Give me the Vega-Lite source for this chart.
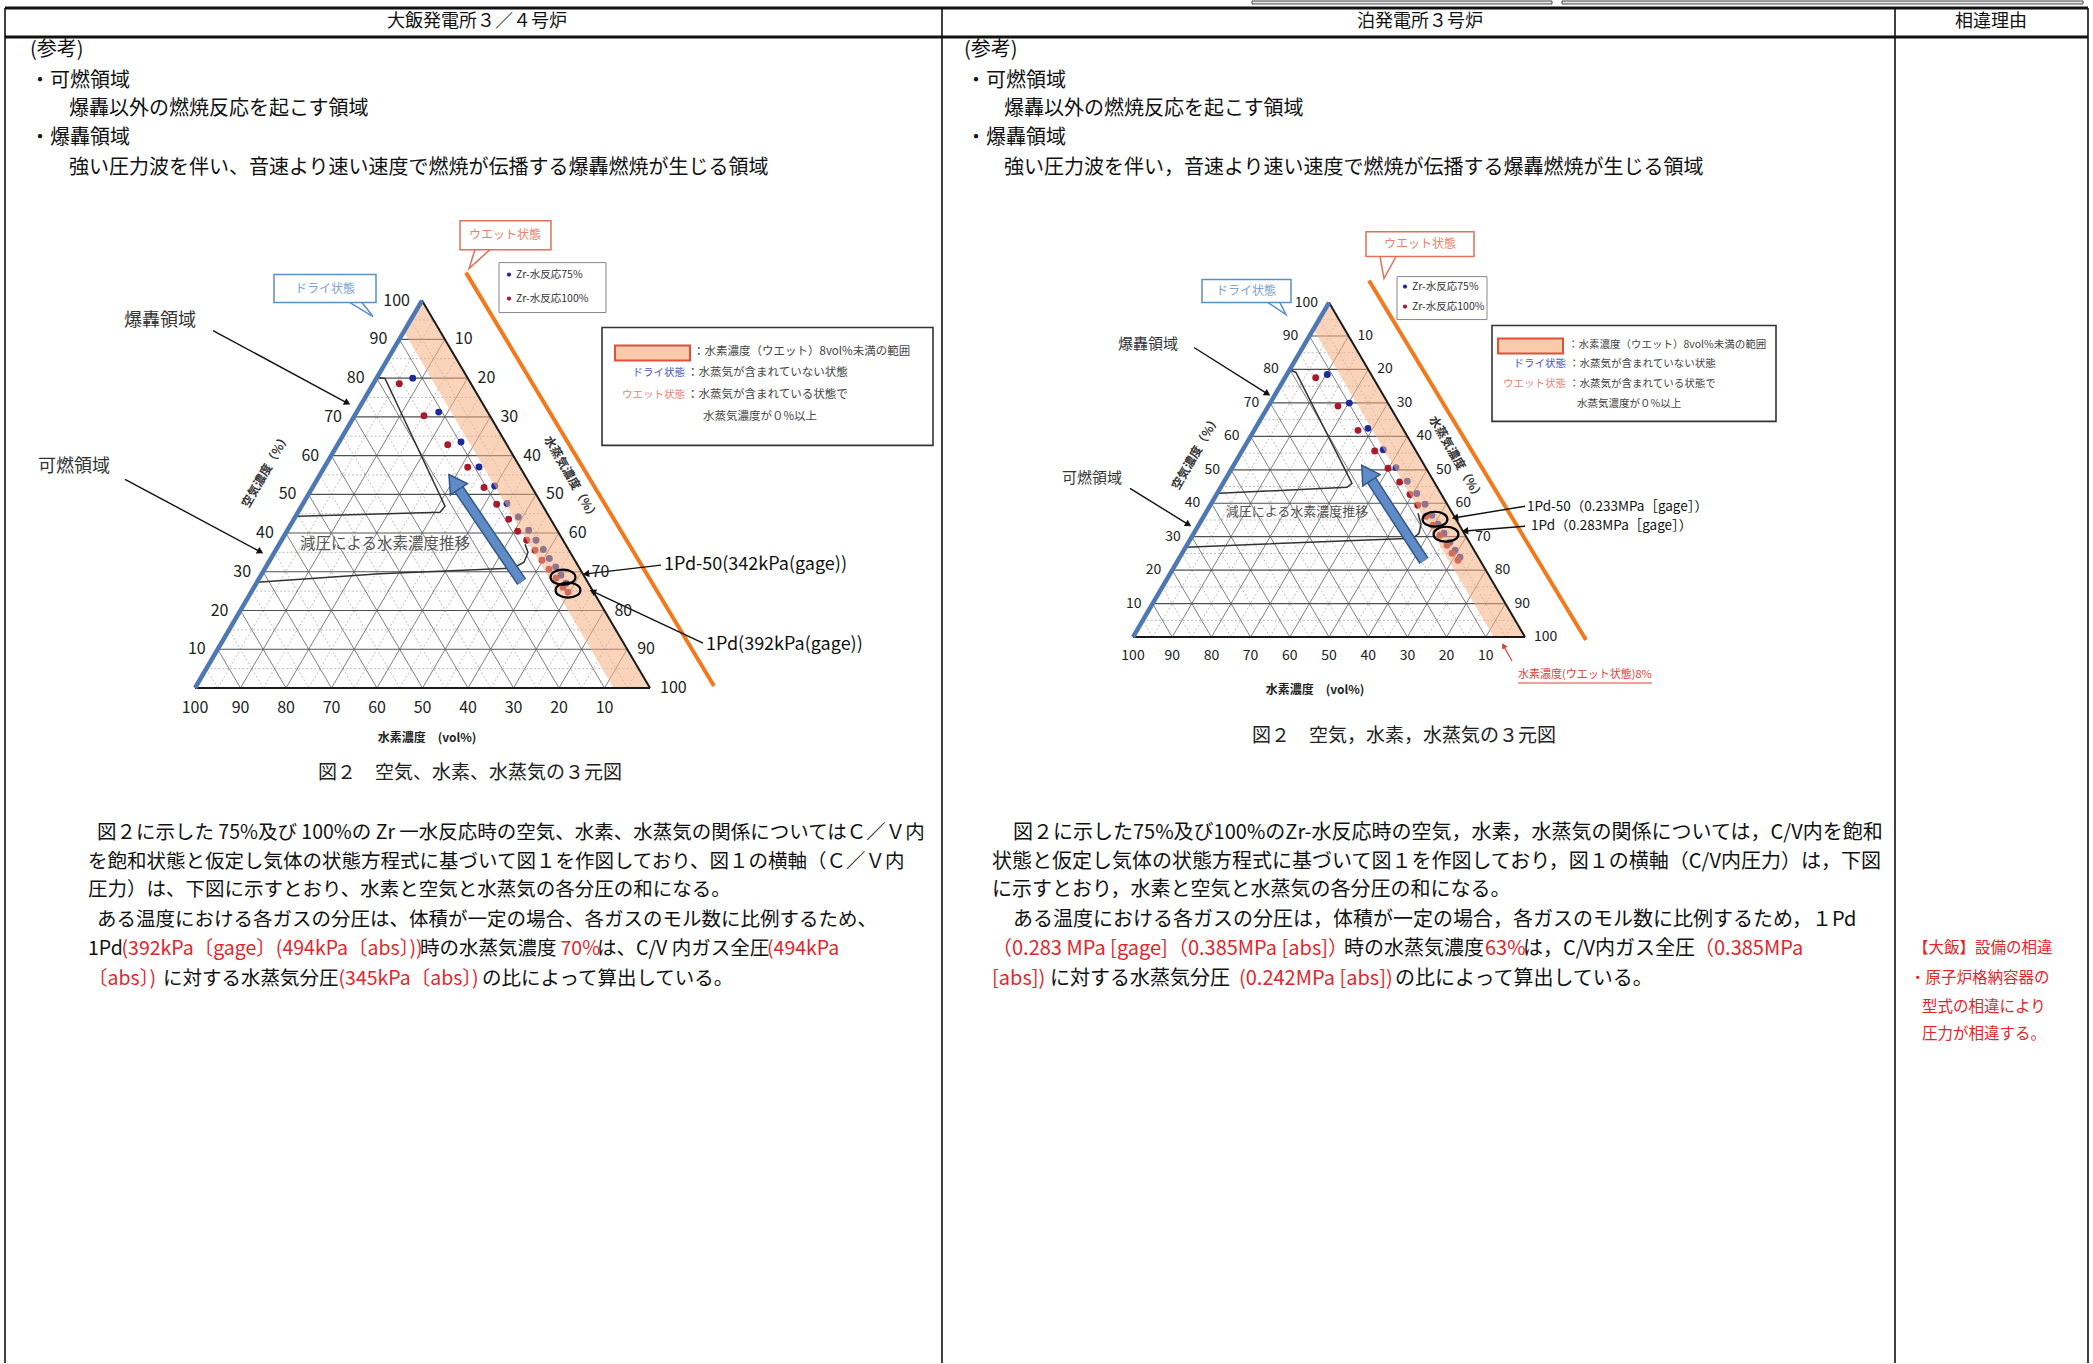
{
"$schema": "https://vega.github.io/schema/vega-lite/v6.json",
"width": 2093, "height": 1364,
"autosize": {"type": "fit", "contains": "padding"},
"padding": 0,
"background": "white",
"config": {"view": {"stroke": null}, "text": {"font": "Noto Sans CJK JP"}},
"datasets": {
"tableV": [{"x":5,"y":7,"x2":5,"y2":1364},{"x":942,"y":7,"x2":942,"y2":1364},{"x":1895,"y":7,"x2":1895,"y2":1364},{"x":2088,"y":7,"x2":2088,"y2":1364}],
"tableH": [{"x":5,"y":7,"x2":2088,"y2":7},{"x":5,"y":36,"x2":2088,"y2":36}],
"cruft": [{"x":1252,"y":0,"x2":1552,"y2":3},{"x":1562,"y":0,"x2":2083,"y2":3}],
"g5": [
{"x":206.4,"y":668.6,"x2":638.6,"y2":668.6},{"x":229.1,"y":629.8,"x2":615.8,"y2":629.8},{"x":251.8,"y":591,"x2":593,"y2":591},{"x":274.5,"y":552.2,"x2":570.2,"y2":552.2},{"x":297.2,"y":513.4,"x2":547.4,"y2":513.4},{"x":319.9,"y":474.6,"x2":524.6,"y2":474.6},{"x":342.6,"y":435.8,"x2":501.8,"y2":435.8},{"x":365.3,"y":397,"x2":479,"y2":397},{"x":388,"y":358.2,"x2":456.2,"y2":358.2},{"x":410.7,"y":319.4,"x2":433.4,"y2":319.4},
{"x":217.8,"y":688,"x2":433.4,"y2":319.4},{"x":263.3,"y":688,"x2":456.2,"y2":358.2},{"x":308.8,"y":688,"x2":479,"y2":397},{"x":354.3,"y":688,"x2":501.8,"y2":435.8},{"x":399.8,"y":688,"x2":524.6,"y2":474.6},{"x":445.3,"y":688,"x2":547.4,"y2":513.4},{"x":490.8,"y":688,"x2":570.2,"y2":552.2},{"x":536.3,"y":688,"x2":593,"y2":591},{"x":581.8,"y":688,"x2":615.8,"y2":629.8},{"x":627.3,"y":688,"x2":638.6,"y2":668.6},
{"x":627.3,"y":688,"x2":410.7,"y2":319.4},{"x":581.8,"y":688,"x2":388,"y2":358.2},{"x":536.3,"y":688,"x2":365.3,"y2":397},{"x":490.8,"y":688,"x2":342.6,"y2":435.8},{"x":445.3,"y":688,"x2":319.9,"y2":474.6},{"x":399.8,"y":688,"x2":297.2,"y2":513.4},{"x":354.3,"y":688,"x2":274.5,"y2":552.2},{"x":308.8,"y":688,"x2":251.8,"y2":591},{"x":263.3,"y":688,"x2":229.1,"y2":629.8},{"x":217.8,"y":688,"x2":206.4,"y2":668.6},
{"x":1142.8,"y":620.25,"x2":1515.2,"y2":620.25},{"x":1162.4,"y":586.75,"x2":1495.6,"y2":586.75},{"x":1182,"y":553.25,"x2":1476,"y2":553.25},{"x":1201.6,"y":519.75,"x2":1456.4,"y2":519.75},{"x":1221.2,"y":486.25,"x2":1436.8,"y2":486.25},{"x":1240.8,"y":452.75,"x2":1417.2,"y2":452.75},{"x":1260.4,"y":419.25,"x2":1397.6,"y2":419.25},{"x":1280,"y":385.75,"x2":1378,"y2":385.75},{"x":1299.6,"y":352.25,"x2":1358.4,"y2":352.25},{"x":1319.2,"y":318.75,"x2":1338.8,"y2":318.75},
{"x":1152.6,"y":637,"x2":1338.8,"y2":318.75},{"x":1191.8,"y":637,"x2":1358.4,"y2":352.25},{"x":1231,"y":637,"x2":1378,"y2":385.75},{"x":1270.2,"y":637,"x2":1397.6,"y2":419.25},{"x":1309.4,"y":637,"x2":1417.2,"y2":452.75},{"x":1348.6,"y":637,"x2":1436.8,"y2":486.25},{"x":1387.8,"y":637,"x2":1456.4,"y2":519.75},{"x":1427,"y":637,"x2":1476,"y2":553.25},{"x":1466.2,"y":637,"x2":1495.6,"y2":586.75},{"x":1505.4,"y":637,"x2":1515.2,"y2":620.25},
{"x":1505.4,"y":637,"x2":1319.2,"y2":318.75},{"x":1466.2,"y":637,"x2":1299.6,"y2":352.25},{"x":1427,"y":637,"x2":1280,"y2":385.75},{"x":1387.8,"y":637,"x2":1260.4,"y2":419.25},{"x":1348.6,"y":637,"x2":1240.8,"y2":452.75},{"x":1309.4,"y":637,"x2":1221.2,"y2":486.25},{"x":1270.2,"y":637,"x2":1201.6,"y2":519.75},{"x":1231,"y":637,"x2":1182,"y2":553.25},{"x":1191.8,"y":637,"x2":1162.4,"y2":586.75},{"x":1152.6,"y":637,"x2":1142.8,"y2":620.25}
],
"g10d": [
{"x":240.5,"y":688,"x2":444.8,"y2":338.8},{"x":286,"y":688,"x2":467.6,"y2":377.6},{"x":331.5,"y":688,"x2":490.4,"y2":416.4},{"x":377,"y":688,"x2":513.2,"y2":455.2},{"x":422.5,"y":688,"x2":536,"y2":494},{"x":468,"y":688,"x2":558.8,"y2":532.8},{"x":513.5,"y":688,"x2":581.6,"y2":571.6},{"x":559,"y":688,"x2":604.4,"y2":610.4},{"x":604.5,"y":688,"x2":627.2,"y2":649.2},
{"x":604.5,"y":688,"x2":399.3,"y2":338.8},{"x":559,"y":688,"x2":376.6,"y2":377.6},{"x":513.5,"y":688,"x2":353.9,"y2":416.4},{"x":468,"y":688,"x2":331.2,"y2":455.2},{"x":422.5,"y":688,"x2":308.5,"y2":494},{"x":377,"y":688,"x2":285.8,"y2":532.8},{"x":331.5,"y":688,"x2":263.1,"y2":571.6},{"x":286,"y":688,"x2":240.4,"y2":610.4},{"x":240.5,"y":688,"x2":217.7,"y2":649.2},
{"x":1172.2,"y":637,"x2":1348.6,"y2":335.5},{"x":1211.4,"y":637,"x2":1368.2,"y2":369},{"x":1250.6,"y":637,"x2":1387.8,"y2":402.5},{"x":1289.8,"y":637,"x2":1407.4,"y2":436},{"x":1329,"y":637,"x2":1427,"y2":469.5},{"x":1368.2,"y":637,"x2":1446.6,"y2":503},{"x":1407.4,"y":637,"x2":1466.2,"y2":536.5},{"x":1446.6,"y":637,"x2":1485.8,"y2":570},{"x":1485.8,"y":637,"x2":1505.4,"y2":603.5},
{"x":1485.8,"y":637,"x2":1309.4,"y2":335.5},{"x":1446.6,"y":637,"x2":1289.8,"y2":369},{"x":1407.4,"y":637,"x2":1270.2,"y2":402.5},{"x":1368.2,"y":637,"x2":1250.6,"y2":436},{"x":1329,"y":637,"x2":1231,"y2":469.5},{"x":1289.8,"y":637,"x2":1211.4,"y2":503},{"x":1250.6,"y":637,"x2":1191.8,"y2":536.5},{"x":1211.4,"y":637,"x2":1172.2,"y2":570},{"x":1172.2,"y":637,"x2":1152.6,"y2":603.5}
],
"g10h": [
{"x":217.7,"y":649.2,"x2":627.2,"y2":649.2},{"x":240.4,"y":610.4,"x2":604.4,"y2":610.4},{"x":263.1,"y":571.6,"x2":581.6,"y2":571.6},{"x":285.8,"y":532.8,"x2":558.8,"y2":532.8},{"x":308.5,"y":494,"x2":536,"y2":494},{"x":331.2,"y":455.2,"x2":513.2,"y2":455.2},{"x":353.9,"y":416.4,"x2":490.4,"y2":416.4},{"x":376.6,"y":377.6,"x2":467.6,"y2":377.6},{"x":399.3,"y":338.8,"x2":444.8,"y2":338.8},
{"x":1152.6,"y":603.5,"x2":1505.4,"y2":603.5},{"x":1172.2,"y":570,"x2":1485.8,"y2":570},{"x":1191.8,"y":536.5,"x2":1466.2,"y2":536.5},{"x":1211.4,"y":503,"x2":1446.6,"y2":503},{"x":1231,"y":469.5,"x2":1427,"y2":469.5},{"x":1250.6,"y":436,"x2":1407.4,"y2":436},{"x":1270.2,"y":402.5,"x2":1387.8,"y2":402.5},{"x":1289.8,"y":369,"x2":1368.2,"y2":369},{"x":1309.4,"y":335.5,"x2":1348.6,"y2":335.5}
],
"dotsB": [
{"x":412.7,"y":377.7},{"x":438.7,"y":411.7},{"x":461,"y":441.7},{"x":479,"y":466.7},{"x":494.7,"y":485.7},{"x":507,"y":503.3},{"x":518.3,"y":516.7},{"x":528.7,"y":530},{"x":536,"y":540},{"x":543.3,"y":549.3},{"x":549.3,"y":558.3},{"x":555.7,"y":566.7},{"x":561,"y":575},{"x":566,"y":583},
{"x":1327.3,"y":374},{"x":1349.3,"y":402.7},{"x":1368,"y":428},{"x":1383.3,"y":449.3},{"x":1396,"y":467.3},{"x":1407.3,"y":481},{"x":1416.7,"y":493.3},{"x":1425,"y":504},{"x":1432,"y":515},{"x":1438,"y":524},{"x":1444,"y":533},{"x":1450,"y":542},{"x":1455,"y":550},{"x":1460,"y":557}
],
"dotsR": [
{"x":399.3,"y":383.3},{"x":424,"y":415.3},{"x":447.7,"y":444.3},{"x":467.7,"y":467},{"x":484,"y":487.3},{"x":496.7,"y":504},{"x":508.7,"y":519},{"x":517.7,"y":531},{"x":526.7,"y":540},{"x":535,"y":550},{"x":542,"y":560},{"x":549,"y":569},{"x":556,"y":578},{"x":563,"y":587},{"x":568,"y":592},
{"x":1315.7,"y":377.3},{"x":1338,"y":405.7},{"x":1358,"y":430},{"x":1374.7,"y":450.7},{"x":1388,"y":468},{"x":1399.7,"y":481.7},{"x":1410,"y":494.3},{"x":1417.7,"y":505},{"x":1426,"y":516},{"x":1433,"y":525},{"x":1440,"y":535},{"x":1447,"y":545},{"x":1452,"y":553},{"x":1458,"y":560}
],
"band": [
{"g":"L","x":403.8,"y":331,"y2":331},{"g":"L","x":422,"y":300,"y2":362},{"g":"L","x":613.6,"y":626.1,"y2":688},{"g":"L","x":650,"y":688,"y2":688},
{"g":"R","x":1313.3,"y":328.8,"y2":328.8},{"g":"R","x":1329,"y":302,"y2":355.6},{"g":"R","x":1493.6,"y":583.3,"y2":637},{"g":"R","x":1525,"y":637,"y2":637}
],
"bounds": [
{"g":"LD","i":0,"x":377,"y":377},{"g":"LD","i":1,"x":385,"y":378},{"g":"LD","i":2,"x":445,"y":506},{"g":"LD","i":3,"x":440,"y":512},{"g":"LD","i":4,"x":298,"y":516},
{"g":"LF","i":0,"x":257,"y":582},{"g":"LF","i":1,"x":380,"y":573.5},{"g":"LF","i":2,"x":513,"y":568},{"g":"LF","i":3,"x":524,"y":562},{"g":"LF","i":4,"x":528,"y":552},{"g":"LF","i":5,"x":525,"y":544},
{"g":"RD","i":0,"x":1289,"y":369},{"g":"RD","i":1,"x":1296,"y":372},{"g":"RD","i":2,"x":1352,"y":483},{"g":"RD","i":3,"x":1347,"y":487},{"g":"RD","i":4,"x":1219,"y":493},
{"g":"RF","i":0,"x":1186,"y":547},{"g":"RF","i":1,"x":1413,"y":538},{"g":"RF","i":2,"x":1419,"y":533},{"g":"RF","i":3,"x":1421,"y":524},{"g":"RF","i":4,"x":1418,"y":513}
],
"edgeBlue": [{"x":195,"y":688,"x2":422,"y2":300},{"x":1133,"y":637,"x2":1329,"y2":302}],
"edgeBlack": [{"x":195,"y":688,"x2":650,"y2":688},{"x":422,"y":300,"x2":650,"y2":688},{"x":1133,"y":637,"x2":1525,"y2":637},{"x":1329,"y":302,"x2":1525,"y2":637}],
"orange": [{"x":466,"y":272,"x2":714,"y2":686},{"x":1369,"y":280,"x2":1586,"y2":640}],
"bigShaft": [{"x":521.7,"y":581.7,"x2":453.9,"y2":481.6},{"x":1424,"y":560.7,"x2":1366.6,"y2":472.5}],
"bigHead": [{"x":453.9,"y":481.6,"dir":235.9},{"x":1366.6,"y":472.5,"dir":237}],
"ellipses": [{"x":563,"y":577},{"x":568,"y":590},{"x":1435,"y":519},{"x":1446,"y":534}],
"arrLines": [
{"x":213,"y":330,"x2":347.4,"y2":402.6},{"x":125,"y":479,"x2":260.4,"y2":551.6},{"x":661,"y":565,"x2":586,"y2":573.7},{"x":703,"y":643,"x2":592.7,"y2":591.3},
{"x":1194,"y":347,"x2":1267.5,"y2":393.4},{"x":1130,"y":488,"x2":1188.5,"y2":524.4},{"x":1525,"y":506,"x2":1455,"y2":517.5},{"x":1525,"y":526,"x2":1465,"y2":530.8}
],
"arrHeads": [
{"x":347.4,"y":402.6,"dir":28.4},{"x":260.4,"y":551.6,"dir":28.2},{"x":586,"y":573.7,"dir":173.4},{"x":592.7,"y":591.3,"dir":205.1},
{"x":1267.5,"y":393.4,"dir":32.3},{"x":1188.5,"y":524.4,"dir":31.9},{"x":1455,"y":517.5,"dir":170.7},{"x":1465,"y":530.8,"dir":175.5}
],
"redLines": [{"x":1512,"y":661,"x2":1503.5,"y2":645.6},{"x":1518,"y":683,"x2":1652,"y2":683}],
"redHead": [{"x":1503.5,"y":645.6,"dir":239.5}],
"dryBox": [{"x":274,"y":274,"x2":376,"y2":302},{"x":1202,"y":279,"x2":1291,"y2":302}],
"wetBox": [{"x":460,"y":220,"x2":551,"y2":249},{"x":1366,"y":231,"x2":1474,"y2":256}],
"dryTail": [{"g":"L","i":0,"x":350,"y":302},{"g":"L","i":1,"x":373,"y":316},{"g":"L","i":2,"x":362,"y":302},{"g":"R","i":0,"x":1268,"y":302},{"g":"R","i":1,"x":1286,"y":314},{"g":"R","i":2,"x":1280,"y":302}],
"wetTail": [{"g":"L","i":0,"x":475,"y":249},{"g":"L","i":1,"x":469,"y":268},{"g":"L","i":2,"x":490,"y":249},{"g":"R","i":0,"x":1380,"y":256},{"g":"R","i":1,"x":1384,"y":278},{"g":"R","i":2,"x":1396,"y":256}],
"serBox": [{"x":499,"y":262,"x2":606,"y2":312},{"x":1397,"y":276,"x2":1487,"y2":319}],
"legBox": [{"x":602,"y":327,"x2":933,"y2":445},{"x":1492,"y":325,"x2":1776,"y2":421}],
"swatch": [{"x":615,"y":345,"x2":690,"y2":360},{"x":1498,"y":338,"x2":1563,"y2":353}],
"legDotB": [{"x":509,"y":274},{"x":1405,"y":286}],
"legDotR": [{"x":509,"y":298},{"x":1405,"y":306}],
"hdr": [{"x":477,"y":21,"t":"大飯発電所３／４号炉"},{"x":1420,"y":21,"t":"泊発電所３号炉"},{"x":1991,"y":21,"t":"相違理由"}],
"body": [
{"x":30,"y":49,"t":"(参考)"},{"x":30,"y":80,"t":"・可燃領域"},{"x":69,"y":108,"t":"爆轟以外の燃焼反応を起こす領域"},{"x":30,"y":137,"t":"・爆轟領域"},{"x":69,"y":167,"t":"強い圧力波を伴い、音速より速い速度で燃焼が伝播する爆轟燃焼が生じる領域"},
{"x":964,"y":49,"t":"(参考)"},{"x":966,"y":80,"t":"・可燃領域"},{"x":1004,"y":108,"t":"爆轟以外の燃焼反応を起こす領域"},{"x":966,"y":137,"t":"・爆轟領域"},{"x":1004,"y":167,"t":"強い圧力波を伴い，音速より速い速度で燃焼が伝播する爆轟燃焼が生じる領域"},
{"x":1013,"y":833,"t":"図２に示した75%及び100%のZr-水反応時の空気，水素，水蒸気の関係については，C/V内を飽和"},
{"x":992,"y":862,"t":"状態と仮定し気体の状態方程式に基づいて図１を作図しており，図１の横軸（C/V内圧力）は，下図"},
{"x":992,"y":890,"t":"に示すとおり，水素と空気と水蒸気の各分圧の和になる。"},
{"x":1013,"y":920,"t":"ある温度における各ガスの分圧は，体積が一定の場合，各ガスのモル数に比例するため，１Pd"},
{"x":1344,"y":949,"t":"時の水蒸気濃度"},{"x":1523,"y":949,"t":"は，C/V内ガス全圧"},
{"x":1050,"y":979,"t":"に対する水蒸気分圧"},{"x":1395,"y":979,"t":"の比によって算出している。"}
],
"bodyRed": [
{"x":992,"y":949,"t":"（0.283 MPa [gage]（0.385MPa [abs]）"},{"x":1485,"y":949,"t":"63%"},{"x":1694,"y":949,"t":"（0.385MPa"},
{"x":992,"y":979,"t":"[abs])"},{"x":1239,"y":979,"t":"(0.242MPa [abs])"}
],
"bodyL": [
{"x":97,"y":833,"t":"図２に示した 75%及び 100%の Zr 一水反応時の空気、水素、水蒸気の関係についてはＣ／Ｖ内"},
{"x":88,"y":862,"t":"を飽和状態と仮定し気体の状態方程式に基づいて図１を作図しており、図１の横軸（Ｃ／Ｖ内"},
{"x":88,"y":890,"t":"圧力）は、下図に示すとおり、水素と空気と水蒸気の各分圧の和になる。"},
{"x":97,"y":920,"t":"ある温度における各ガスの分圧は、体積が一定の場合、各ガスのモル数に比例するため、"},
{"x":88,"y":949,"t":"1Pd"},{"x":420,"y":949,"t":"時の水蒸気濃度"},{"x":597,"y":949,"t":"は、C/V 内ガス全圧"},
{"x":163,"y":979,"t":"に対する水蒸気分圧"},{"x":482,"y":979,"t":"の比によって算出している。"}
],
"bodyRedL": [
{"x":121.5,"y":949,"t":"(392kPa〔gage〕(494kPa〔abs〕))"},{"x":560.5,"y":949,"t":"70%"},{"x":767,"y":949,"t":"(494kPa"},
{"x":88,"y":979,"t":"〔abs〕)"},{"x":338.5,"y":979,"t":"(345kPa〔abs〕)"}
],
"reason": [{"x":1913,"y":948,"t":"【大飯】設備の相違"},{"x":1910,"y":978,"t":"・原子炉格納容器の"},{"x":1922,"y":1007,"t":"型式の相違により"},{"x":1922,"y":1035,"t":"圧力が相違する。"}],
"cap": [{"x":470,"y":773,"t":"図２　空気、水素、水蒸気の３元図"},{"x":1404,"y":736,"t":"図２　空気，水素，水蒸気の３元図"}],
"regL": [{"x":160,"y":320,"t":"爆轟領域"},{"x":74,"y":467,"t":"可燃領域"}],
"regR": [{"x":1148,"y":344,"t":"爆轟領域"},{"x":1092,"y":478,"t":"可燃領域"}],
"annL": [{"x":664,"y":565,"t":"1Pd-50(342kPa(gage))"},{"x":706,"y":645,"t":"1Pd(392kPa(gage))"}],
"annR": [{"x":1527,"y":507,"t":"1Pd-50（0.233MPa［gage］）"},{"x":1531,"y":526,"t":"1Pd（0.283MPa［gage］）"}],
"genL": [{"x":385,"y":544,"t":"減圧による水素濃度推移"}],
"genR": [{"x":1297,"y":512,"t":"減圧による水素濃度推移"}],
"axL": [{"x":266,"y":470,"t":"空気濃度（%）"},{"x":1196,"y":452,"t":"空気濃度（%）"}],
"axR": [{"x":571,"y":478,"t":"水蒸気濃度（%）"},{"x":1456,"y":458,"t":"水蒸気濃度（%）"}],
"axB": [{"x":427,"y":738,"t":"水素濃度　(vol%)"},{"x":1315,"y":690,"t":"水素濃度　(vol%)"}],
"dryTxt": [{"x":325,"y":288,"t":"ドライ状態"},{"x":1246,"y":290,"t":"ドライ状態"}],
"wetTxt": [{"x":505,"y":234,"t":"ウエット状態"},{"x":1420,"y":243,"t":"ウエット状態"}],
"serTxt": [{"x":516,"y":274,"t":"Zr-水反応75%"},{"x":516,"y":298,"t":"Zr-水反応100%"},{"x":1412,"y":286,"t":"Zr-水反応75%"},{"x":1412,"y":306,"t":"Zr-水反応100%"}],
"legTxtL": [{"x":693,"y":352,"t":"：水素濃度（ウエット）8vol%未満の範囲"},{"x":687,"y":373,"t":"：水蒸気が含まれていない状態"},{"x":687,"y":395,"t":"：水蒸気が含まれている状態で"},{"x":703,"y":417,"t":"水蒸気濃度が０%以上"}],
"legTxtR": [{"x":1568,"y":345,"t":"：水素濃度（ウエット）8vol%未満の範囲"},{"x":1569,"y":364,"t":"：水蒸気が含まれていない状態"},{"x":1569,"y":384,"t":"：水蒸気が含まれている状態で"},{"x":1577,"y":404,"t":"水蒸気濃度が０%以上"}],
"legDry": [{"x":685,"y":373,"t":"ドライ状態"},{"x":1566,"y":364,"t":"ドライ状態"}],
"legWet": [{"x":685,"y":395,"t":"ウエット状態"},{"x":1566,"y":384,"t":"ウエット状態"}],
"redNote": [{"x":1518,"y":675,"t":"水素濃度(ウエット状態)8%"}],
"tkLL": [{"x":205.7,"y":649.2,"t":"10"},{"x":228.4,"y":610.4,"t":"20"},{"x":251.1,"y":571.6,"t":"30"},{"x":273.8,"y":532.8,"t":"40"},{"x":296.5,"y":494,"t":"50"},{"x":319.2,"y":455.2,"t":"60"},{"x":341.9,"y":416.4,"t":"70"},{"x":364.6,"y":377.6,"t":"80"},{"x":387.3,"y":338.8,"t":"90"},{"x":410,"y":300,"t":"100"}],
"tkLR": [{"x":454.8,"y":338.8,"t":"10"},{"x":477.6,"y":377.6,"t":"20"},{"x":500.4,"y":416.4,"t":"30"},{"x":523.2,"y":455.2,"t":"40"},{"x":546,"y":494,"t":"50"},{"x":568.8,"y":532.8,"t":"60"},{"x":591.6,"y":571.6,"t":"70"},{"x":614.4,"y":610.4,"t":"80"},{"x":637.2,"y":649.2,"t":"90"},{"x":660,"y":688,"t":"100"}],
"tkLB": [{"x":604.5,"y":708,"t":"10"},{"x":559,"y":708,"t":"20"},{"x":513.5,"y":708,"t":"30"},{"x":468,"y":708,"t":"40"},{"x":422.5,"y":708,"t":"50"},{"x":377,"y":708,"t":"60"},{"x":331.5,"y":708,"t":"70"},{"x":286,"y":708,"t":"80"},{"x":240.5,"y":708,"t":"90"},{"x":195,"y":708,"t":"100"}],
"tkRL": [{"x":1141.6,"y":603.5,"t":"10"},{"x":1161.2,"y":570,"t":"20"},{"x":1180.8,"y":536.5,"t":"30"},{"x":1200.4,"y":503,"t":"40"},{"x":1220,"y":469.5,"t":"50"},{"x":1239.6,"y":436,"t":"60"},{"x":1259.2,"y":402.5,"t":"70"},{"x":1278.8,"y":369,"t":"80"},{"x":1298.4,"y":335.5,"t":"90"},{"x":1318,"y":302,"t":"100"}],
"tkRR": [{"x":1357.6,"y":335.5,"t":"10"},{"x":1377.2,"y":369,"t":"20"},{"x":1396.8,"y":402.5,"t":"30"},{"x":1416.4,"y":436,"t":"40"},{"x":1436,"y":469.5,"t":"50"},{"x":1455.6,"y":503,"t":"60"},{"x":1475.2,"y":536.5,"t":"70"},{"x":1494.8,"y":570,"t":"80"},{"x":1514.4,"y":603.5,"t":"90"},{"x":1534,"y":637,"t":"100"}],
"tkRB": [{"x":1485.8,"y":656,"t":"10"},{"x":1446.6,"y":656,"t":"20"},{"x":1407.4,"y":656,"t":"30"},{"x":1368.2,"y":656,"t":"40"},{"x":1329,"y":656,"t":"50"},{"x":1289.8,"y":656,"t":"60"},{"x":1250.6,"y":656,"t":"70"},{"x":1211.4,"y":656,"t":"80"},{"x":1172.2,"y":656,"t":"90"},{"x":1133,"y":656,"t":"100"}]
},
"encoding": {
"x": {"field": "x", "type": "quantitative", "scale": {"domain": [0, 2093], "nice": false, "zero": false}, "axis": null},
"y": {"field": "y", "type": "quantitative", "scale": {"domain": [0, 1364], "nice": false, "zero": false, "reverse": true}, "axis": null}
},
"layer": [
{"data": {"name": "tableV"}, "mark": {"type": "rule", "stroke": "#111", "strokeWidth": 1.6}, "encoding": {"x2": {"field": "x2"}, "y2": {"field": "y2"}}},
{"data": {"name": "tableH"}, "mark": {"type": "rule", "stroke": "#111", "strokeWidth": 3}, "encoding": {"x2": {"field": "x2"}, "y2": {"field": "y2"}}},
{"data": {"name": "cruft"}, "mark": {"type": "rect", "fill": "#e8e8e8", "stroke": "#444", "strokeWidth": 1}, "encoding": {"x2": {"field": "x2"}, "y2": {"field": "y2"}}},
{"data": {"name": "g5"}, "mark": {"type": "rule", "stroke": "#a0a0a0", "strokeWidth": 0.7, "strokeDash": [2, 2]}, "encoding": {"x2": {"field": "x2"}, "y2": {"field": "y2"}}},
{"data": {"name": "g10d"}, "mark": {"type": "rule", "stroke": "#707070", "strokeWidth": 0.9}, "encoding": {"x2": {"field": "x2"}, "y2": {"field": "y2"}}},
{"data": {"name": "g10h"}, "mark": {"type": "rule", "stroke": "#505050", "strokeWidth": 1.2}, "encoding": {"x2": {"field": "x2"}, "y2": {"field": "y2"}}},
{"data": {"name": "dotsB"}, "mark": {"type": "circle", "fill": "#1e2a9c", "size": 48, "opacity": 1}},
{"data": {"name": "dotsR"}, "mark": {"type": "circle", "fill": "#a81a2c", "size": 48, "opacity": 1}},
{"data": {"name": "band"}, "mark": {"type": "area", "orient": "vertical", "fill": "#f4b183", "opacity": 0.55}, "encoding": {"y": {"field": "y", "type": "quantitative", "stack": null}, "y2": {"field": "y2"}, "detail": {"field": "g"}}},
{"data": {"name": "bounds"}, "mark": {"type": "line", "stroke": "#333", "strokeWidth": 1.5}, "encoding": {"detail": {"field": "g"}, "order": {"field": "i", "type": "quantitative"}}},
{"data": {"name": "edgeBlack"}, "mark": {"type": "rule", "stroke": "#1a1a1a", "strokeWidth": 2}, "encoding": {"x2": {"field": "x2"}, "y2": {"field": "y2"}}},
{"data": {"name": "edgeBlue"}, "mark": {"type": "rule", "stroke": "#4d78b4", "strokeWidth": 4.5}, "encoding": {"x2": {"field": "x2"}, "y2": {"field": "y2"}}},
{"data": {"name": "orange"}, "mark": {"type": "rule", "stroke": "#f07a1e", "strokeWidth": 4}, "encoding": {"x2": {"field": "x2"}, "y2": {"field": "y2"}}},
{"data": {"name": "bigShaft"}, "mark": {"type": "rule", "stroke": "#34578a", "strokeWidth": 11}, "encoding": {"x2": {"field": "x2"}, "y2": {"field": "y2"}}},
{"data": {"name": "bigShaft"}, "mark": {"type": "rule", "stroke": "#5f8bc6", "strokeWidth": 8}, "encoding": {"x2": {"field": "x2"}, "y2": {"field": "y2"}}},
{"data": {"name": "bigHead"}, "mark": {"type": "point", "shape": "triangle-right", "filled": true, "fill": "#5f8bc6", "stroke": "#34578a", "strokeWidth": 1.5, "size": 420, "opacity": 1}, "encoding": {"angle": {"field": "dir", "type": "quantitative", "scale": {"domain": [0, 360], "range": [0, 360]}}}},
{"data": {"name": "ellipses"}, "mark": {"type": "point", "shape": "M -1 0 A 1 0.6 0 1 0 1 0 A 1 0.6 0 1 0 -1 0 Z", "filled": false, "stroke": "#000", "strokeWidth": 2.2, "size": 620, "opacity": 1}},
{"data": {"name": "arrLines"}, "mark": {"type": "rule", "stroke": "#111", "strokeWidth": 1.4}, "encoding": {"x2": {"field": "x2"}, "y2": {"field": "y2"}}},
{"data": {"name": "arrHeads"}, "mark": {"type": "point", "shape": "triangle-right", "filled": true, "fill": "#111", "size": 55, "opacity": 1}, "encoding": {"angle": {"field": "dir", "type": "quantitative", "scale": {"domain": [0, 360], "range": [0, 360]}}}},
{"data": {"name": "redLines"}, "mark": {"type": "rule", "stroke": "#e0403a", "strokeWidth": 1.2}, "encoding": {"x2": {"field": "x2"}, "y2": {"field": "y2"}}},
{"data": {"name": "redHead"}, "mark": {"type": "point", "shape": "triangle-right", "filled": true, "fill": "#e0403a", "size": 40, "opacity": 1}, "encoding": {"angle": {"field": "dir", "type": "quantitative", "scale": {"domain": [0, 360], "range": [0, 360]}}}},
{"data": {"name": "dryBox"}, "mark": {"type": "rect", "fill": "white", "stroke": "#5a8fcb", "strokeWidth": 1.5}, "encoding": {"x2": {"field": "x2"}, "y2": {"field": "y2"}}},
{"data": {"name": "wetBox"}, "mark": {"type": "rect", "fill": "white", "stroke": "#e0705a", "strokeWidth": 1.5}, "encoding": {"x2": {"field": "x2"}, "y2": {"field": "y2"}}},
{"data": {"name": "dryTail"}, "mark": {"type": "line", "stroke": "#5a8fcb", "strokeWidth": 1.5}, "encoding": {"detail": {"field": "g"}, "order": {"field": "i", "type": "quantitative"}}},
{"data": {"name": "wetTail"}, "mark": {"type": "line", "stroke": "#e0705a", "strokeWidth": 1.5}, "encoding": {"detail": {"field": "g"}, "order": {"field": "i", "type": "quantitative"}}},
{"data": {"name": "serBox"}, "mark": {"type": "rect", "fill": "white", "stroke": "#888", "strokeWidth": 1}, "encoding": {"x2": {"field": "x2"}, "y2": {"field": "y2"}}},
{"data": {"name": "legBox"}, "mark": {"type": "rect", "fill": "white", "stroke": "#333", "strokeWidth": 1.6}, "encoding": {"x2": {"field": "x2"}, "y2": {"field": "y2"}}},
{"data": {"name": "swatch"}, "mark": {"type": "rect", "fill": "#f8cbad", "stroke": "#e0503a", "strokeWidth": 2}, "encoding": {"x2": {"field": "x2"}, "y2": {"field": "y2"}}},
{"data": {"name": "legDotB"}, "mark": {"type": "circle", "fill": "#1e2a9c", "size": 18, "opacity": 1}},
{"data": {"name": "legDotR"}, "mark": {"type": "circle", "fill": "#a81a2c", "size": 18, "opacity": 1}},
{"data": {"name": "hdr"}, "mark": {"type": "text", "align": "center", "baseline": "middle", "fontSize": 18, "fill": "#111"}, "encoding": {"text": {"field": "t"}}},
{"data": {"name": "body"}, "mark": {"type": "text", "align": "left", "baseline": "middle", "fontSize": 20, "fill": "#111"}, "encoding": {"text": {"field": "t"}}},
{"data": {"name": "bodyRed"}, "mark": {"type": "text", "align": "left", "baseline": "middle", "fontSize": 20, "fill": "#e3262b"}, "encoding": {"text": {"field": "t"}}},
{"data": {"name": "bodyL"}, "mark": {"type": "text", "align": "left", "baseline": "middle", "fontSize": 19.5, "fill": "#111"}, "encoding": {"text": {"field": "t"}}},
{"data": {"name": "bodyRedL"}, "mark": {"type": "text", "align": "left", "baseline": "middle", "fontSize": 19.5, "fill": "#e3262b"}, "encoding": {"text": {"field": "t"}}},
{"data": {"name": "reason"}, "mark": {"type": "text", "align": "left", "baseline": "middle", "fontSize": 15.5, "fill": "#e3262b"}, "encoding": {"text": {"field": "t"}}},
{"data": {"name": "cap"}, "mark": {"type": "text", "align": "center", "baseline": "middle", "fontSize": 19, "fill": "#222"}, "encoding": {"text": {"field": "t"}}},
{"data": {"name": "regL"}, "mark": {"type": "text", "align": "center", "baseline": "middle", "fontSize": 18, "fill": "#333"}, "encoding": {"text": {"field": "t"}}},
{"data": {"name": "regR"}, "mark": {"type": "text", "align": "center", "baseline": "middle", "fontSize": 15, "fill": "#333"}, "encoding": {"text": {"field": "t"}}},
{"data": {"name": "annL"}, "mark": {"type": "text", "align": "left", "baseline": "middle", "fontSize": 18, "fill": "#111"}, "encoding": {"text": {"field": "t"}}},
{"data": {"name": "annR"}, "mark": {"type": "text", "align": "left", "baseline": "middle", "fontSize": 13.5, "fill": "#111"}, "encoding": {"text": {"field": "t"}}},
{"data": {"name": "genL"}, "mark": {"type": "text", "align": "center", "baseline": "middle", "fontSize": 15.5, "fill": "#555"}, "encoding": {"text": {"field": "t"}}},
{"data": {"name": "genR"}, "mark": {"type": "text", "align": "center", "baseline": "middle", "fontSize": 13, "fill": "#555"}, "encoding": {"text": {"field": "t"}}},
{"data": {"name": "axL"}, "mark": {"type": "text", "align": "center", "baseline": "middle", "fontSize": 12, "fontWeight": "bold", "fill": "#333", "angle": 300}, "encoding": {"text": {"field": "t"}}},
{"data": {"name": "axR"}, "mark": {"type": "text", "align": "center", "baseline": "middle", "fontSize": 12, "fontWeight": "bold", "fill": "#333", "angle": 60}, "encoding": {"text": {"field": "t"}}},
{"data": {"name": "axB"}, "mark": {"type": "text", "align": "center", "baseline": "middle", "fontSize": 12, "fontWeight": "bold", "fill": "#222"}, "encoding": {"text": {"field": "t"}}},
{"data": {"name": "dryTxt"}, "mark": {"type": "text", "align": "center", "baseline": "middle", "fontSize": 12, "fill": "#7aa3d6"}, "encoding": {"text": {"field": "t"}}},
{"data": {"name": "wetTxt"}, "mark": {"type": "text", "align": "center", "baseline": "middle", "fontSize": 12, "fill": "#e8826c"}, "encoding": {"text": {"field": "t"}}},
{"data": {"name": "serTxt"}, "mark": {"type": "text", "align": "left", "baseline": "middle", "fontSize": 10.5, "fill": "#333"}, "encoding": {"text": {"field": "t"}}},
{"data": {"name": "legTxtL"}, "mark": {"type": "text", "align": "left", "baseline": "middle", "fontSize": 11.5, "fill": "#444"}, "encoding": {"text": {"field": "t"}}},
{"data": {"name": "legTxtR"}, "mark": {"type": "text", "align": "left", "baseline": "middle", "fontSize": 10.5, "fill": "#444"}, "encoding": {"text": {"field": "t"}}},
{"data": {"name": "legDry"}, "mark": {"type": "text", "align": "right", "baseline": "middle", "fontSize": 10.5, "fill": "#4656c0"}, "encoding": {"text": {"field": "t"}}},
{"data": {"name": "legWet"}, "mark": {"type": "text", "align": "right", "baseline": "middle", "fontSize": 10.5, "fill": "#e8837a"}, "encoding": {"text": {"field": "t"}}},
{"data": {"name": "redNote"}, "mark": {"type": "text", "align": "left", "baseline": "middle", "fontSize": 11, "fill": "#e0403a"}, "encoding": {"text": {"field": "t"}}},
{"data": {"name": "tkLL"}, "mark": {"type": "text", "align": "right", "baseline": "middle", "fontSize": 16, "fill": "#222"}, "encoding": {"text": {"field": "t"}}},
{"data": {"name": "tkLR"}, "mark": {"type": "text", "align": "left", "baseline": "middle", "fontSize": 16, "fill": "#222"}, "encoding": {"text": {"field": "t"}}},
{"data": {"name": "tkLB"}, "mark": {"type": "text", "align": "center", "baseline": "middle", "fontSize": 16, "fill": "#222"}, "encoding": {"text": {"field": "t"}}},
{"data": {"name": "tkRL"}, "mark": {"type": "text", "align": "right", "baseline": "middle", "fontSize": 14, "fill": "#222"}, "encoding": {"text": {"field": "t"}}},
{"data": {"name": "tkRR"}, "mark": {"type": "text", "align": "left", "baseline": "middle", "fontSize": 14, "fill": "#222"}, "encoding": {"text": {"field": "t"}}},
{"data": {"name": "tkRB"}, "mark": {"type": "text", "align": "center", "baseline": "middle", "fontSize": 14, "fill": "#222"}, "encoding": {"text": {"field": "t"}}}
]
}
